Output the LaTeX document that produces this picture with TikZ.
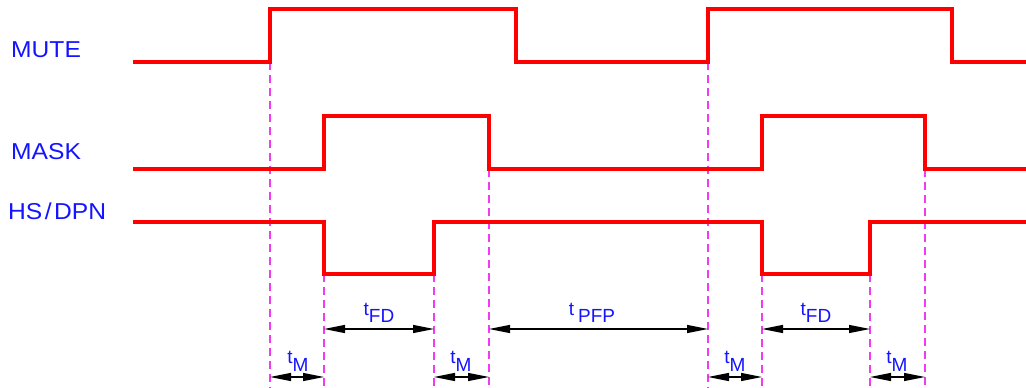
\documentclass[tikz,border=0pt]{standalone}
\usepackage{fontspec}
\setmainfont{Liberation Sans}
\newfontfamily\widesans[FakeStretch=1.07]{Liberation Sans}
\usetikzlibrary{arrows.meta,calc}
\definecolor{sigred}{RGB}{255,0,0}
\definecolor{lblue}{RGB}{20,20,255}
\definecolor{dmag}{RGB}{240,60,240}
\begin{document}
\begin{tikzpicture}[x=1pt,y=-1pt,
  signal/.style={draw=sigred,line width=3.6pt,line join=miter},
  guide/.style={draw=dmag,line width=1.3pt,dash pattern=on 8pt off 5pt},
  dimline/.style={draw=black,line width=1.3pt,{Triangle[length=21pt,width=8pt]}-{Triangle[length=21pt,width=8pt]}},
  siglabel/.style={text=lblue,font=\widesans\fontsize{23}{23}\selectfont,anchor=base west,inner sep=0pt},
  dimlabel/.style={text=lblue,font=\fontsize{19}{19}\selectfont,anchor=base,inner sep=0pt}]
\useasboundingbox (0,0) rectangle (1026,388);
% signal labels
\node[siglabel] (lmute) at (11,57) {MUTE};
\node[siglabel] (lmask) at (11,159) {MASK};
\node[siglabel] (lhs) at (8,219) {HS\kern2.5pt/\kern2.5pt DPN};
% guides
\foreach \gx/\gy in {270/62,324/274,434/274,489/169,708/62,762/274,870/274,925/169}{
  \draw[guide] (\gx,\gy) -- (\gx,388);
}
% signals
\draw[signal] (133,62) -- (270,62) -- (270,9) -- (516,9) -- (516,62) -- (708,62) -- (708,9) -- (952,9) -- (952,62) -- (1026,62);
\draw[signal] (133,169) -- (324,169) -- (324,116) -- (489,116) -- (489,169) -- (762,169) -- (762,116) -- (925,116) -- (925,169) -- (1026,169);
\draw[signal] (133,222) -- (324,222) -- (324,274) -- (434,274) -- (434,222) -- (762,222) -- (762,274) -- (870,274) -- (870,222) -- (1026,222);
% dimension coordinates
\coordinate (fa1) at (324,329); \coordinate (fb1) at (434,329);
\coordinate (pa) at (489,329);  \coordinate (pb) at (708,329);
\coordinate (fa2) at (762,329); \coordinate (fb2) at (870,329);
\coordinate (ma1) at (270,377); \coordinate (mb1) at (324,377);
\coordinate (ma2) at (434,377); \coordinate (mb2) at (489,377);
\coordinate (ma3) at (708,377); \coordinate (mb3) at (762,377);
\coordinate (ma4) at (870,377); \coordinate (mb4) at (925,377);
\foreach \a/\b in {fa1/fb1,pa/pb,fa2/fb2,ma1/mb1,ma2/mb2,ma3/mb3,ma4/mb4}{
  \draw[dimline] (\a) -- (\b);
  \fill ($(\a)!0.5!(\b)$) circle (1.2pt);
}
% dimension labels
\node[dimlabel] (tfd1) at (379,315) {t\raisebox{-7pt}{FD}};
\node[dimlabel] (tpfp) at (592,315) {t\hspace{4pt}\raisebox{-7pt}{PFP}};
\node[dimlabel] (tfd2) at (816,315) {t\raisebox{-7pt}{FD}};
\node[dimlabel] (tm1) at (298,363) {t\raisebox{-8pt}{M}};
\node[dimlabel] (tm2) at (461,363) {t\raisebox{-8pt}{M}};
\node[dimlabel] (tm3) at (735,363) {t\raisebox{-8pt}{M}};
\node[dimlabel] (tm4) at (897,363) {t\raisebox{-8pt}{M}};
\end{tikzpicture}
\end{document}
